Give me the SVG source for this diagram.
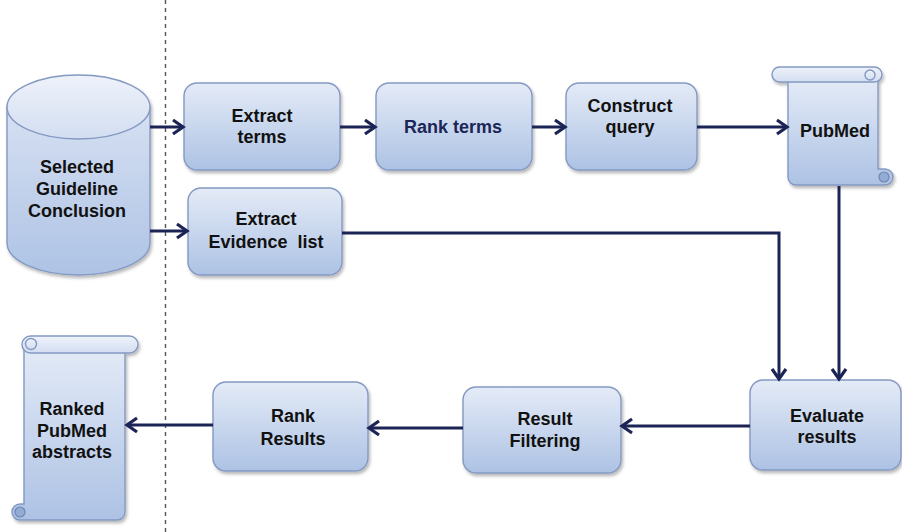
<svg xmlns="http://www.w3.org/2000/svg" width="902" height="532" viewBox="0 0 902 532">
  <defs>
    <linearGradient id="boxFill" x1="0" y1="0" x2="0" y2="1">
      <stop offset="0" stop-color="#e4ebf7"/>
      <stop offset="1" stop-color="#adc2e4"/>
    </linearGradient>
    <linearGradient id="cylFill" x1="0" y1="0" x2="0" y2="1">
      <stop offset="0" stop-color="#d6e0f2"/>
      <stop offset="1" stop-color="#aec3e5"/>
    </linearGradient>
    <linearGradient id="topFill" x1="0" y1="0" x2="0" y2="1">
      <stop offset="0" stop-color="#eef2fa"/>
      <stop offset="1" stop-color="#d3def1"/>
    </linearGradient>
    <filter id="shadow" x="-10%" y="-10%" width="125%" height="130%">
      <feDropShadow dx="1.5" dy="2.5" stdDeviation="1.8" flood-color="#000" flood-opacity="0.28"/>
    </filter>
    <marker id="arrow" markerUnits="userSpaceOnUse" markerWidth="16" markerHeight="18" viewBox="-12 -9 14 18" refX="0" refY="0" orient="auto">
      <path d="M-10,-7 L0,0 L-10,7" fill="none" stroke="#1b2455" stroke-width="3.2" stroke-linejoin="miter"/>
    </marker>
  </defs>
  <style>
    .box { fill: url(#boxFill); stroke: #8499c2; stroke-width: 1.4; filter: url(#shadow); }
    .shape { fill: url(#boxFill); stroke: #8499c2; stroke-width: 1.4; }
    .roll { fill: url(#topFill); stroke: #8499c2; stroke-width: 1.4; }
    .curl { fill: #93acd6; stroke: #7186b0; stroke-width: 1.2; }
    .lbl { font-family: "Liberation Sans", Arial, sans-serif; font-weight: bold; font-size: 18px; fill: #111; text-anchor: middle; }
    .navy { fill: #1c2656; }
    .conn { fill: none; stroke: #1b2455; stroke-width: 3; marker-end: url(#arrow); }
    .divider { stroke: #555; stroke-width: 1.4; stroke-dasharray: 4 4; }
  </style>

  <!-- separator between input and processing -->
  <line class="divider" x1="165.5" y1="0" x2="165.5" y2="532"/>

  <!-- data source cylinder -->
  <g id="guideline">
    <g filter="url(#shadow)">
      <path class="shape" d="M7,107 V243 A71.5,32 0 0 0 150,243 V107 Z" fill="url(#cylFill)" style="fill:url(#cylFill)"/>
      <ellipse class="roll" cx="78.5" cy="107" rx="71.5" ry="32"/>
    </g>
    <text class="lbl" x="77" y="173">Selected</text>
    <text class="lbl" x="77" y="195">Guideline</text>
    <text class="lbl" x="77" y="217">Conclusion</text>
  </g>

  <g id="extract-terms">
    <rect class="box" x="184" y="83" width="156" height="87" rx="13"/>
    <text class="lbl" x="262" y="122">Extract</text>
    <text class="lbl" x="262" y="143">terms</text>
  </g>

  <g id="rank-terms">
    <rect class="box" x="376" y="83" width="156" height="87" rx="13"/>
    <text class="lbl navy" x="453" y="133">Rank terms</text>
  </g>

  <g id="construct-query">
    <rect class="box" x="566" y="83" width="131" height="87" rx="13"/>
    <text class="lbl" x="630" y="112">Construct</text>
    <text class="lbl" x="630" y="133">query</text>
  </g>

  <g id="pubmed">
    <g filter="url(#shadow)">
      <path class="shape" d="M788,78 V177 A8,8 0 0 0 796,185 H885 A8,8 0 0 0 885,169 H878 V78 Z"/>
      <rect class="roll" x="772" y="67" width="110" height="15" rx="7.5"/>
      <circle class="roll" cx="870" cy="75" r="5"/>
      <circle class="curl" cx="884" cy="177" r="5"/>
    </g>
    <text class="lbl" x="835" y="137">PubMed</text>
  </g>

  <g id="extract-evidence">
    <rect class="box" x="188" y="188" width="154" height="87" rx="13"/>
    <text class="lbl" x="266" y="225">Extract</text>
    <text class="lbl" x="266" y="248" xml:space="preserve">Evidence  list</text>
  </g>

  <g id="evaluate">
    <rect class="box" x="750" y="380" width="151" height="90" rx="13"/>
    <text class="lbl" x="827" y="422">Evaluate</text>
    <text class="lbl" x="827" y="443">results</text>
  </g>

  <g id="result-filtering">
    <rect class="box" x="463" y="387" width="158" height="86" rx="13"/>
    <text class="lbl" x="545" y="425">Result</text>
    <text class="lbl" x="545" y="447">Filtering</text>
  </g>

  <g id="rank-results">
    <rect class="box" x="213" y="382" width="155" height="89" rx="13"/>
    <text class="lbl" x="293" y="422">Rank</text>
    <text class="lbl" x="293" y="445">Results</text>
  </g>

  <g id="ranked-abstracts">
    <g filter="url(#shadow)">
      <path class="shape" d="M125,344 V512 A8,8 0 0 1 117,520 H20 A8,8 0 0 1 20,504 H24 V344 Z"/>
      <rect class="roll" x="22" y="336" width="116" height="17" rx="8.5"/>
      <circle class="roll" cx="31" cy="344" r="5.5"/>
      <circle class="curl" cx="20" cy="512" r="5"/>
    </g>
    <text class="lbl" x="72" y="415">Ranked</text>
    <text class="lbl" x="72" y="437">PubMed</text>
    <text class="lbl" x="72" y="458">abstracts</text>
  </g>

  <g id="connectors">
    <line class="conn" x1="150" y1="127" x2="183" y2="127"/>
    <line class="conn" x1="150" y1="231" x2="187" y2="231"/>
    <line class="conn" x1="340" y1="127" x2="375" y2="127"/>
    <line class="conn" x1="532" y1="127" x2="565" y2="127"/>
    <line class="conn" x1="697" y1="127" x2="787" y2="127"/>
    <polyline class="conn" points="342,233 779,233 779,379"/>
    <line class="conn" x1="839" y1="186" x2="839" y2="379"/>
    <line class="conn" x1="750" y1="426" x2="622" y2="426"/>
    <line class="conn" x1="463" y1="428" x2="369" y2="428"/>
    <line class="conn" x1="213" y1="425" x2="127" y2="425"/>
  </g>
</svg>
